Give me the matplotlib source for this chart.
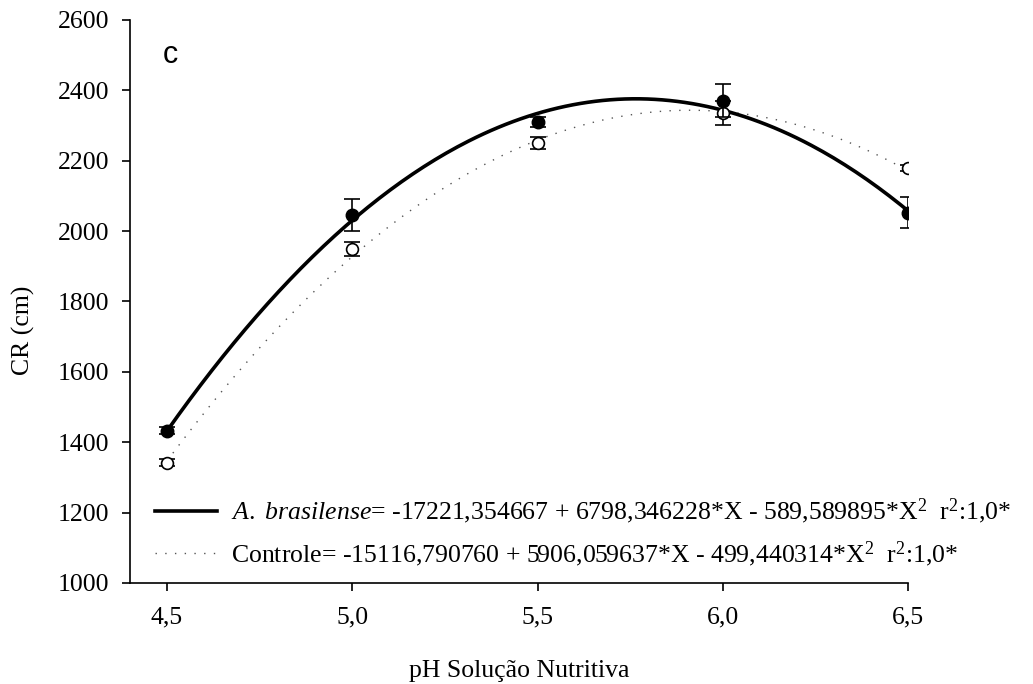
import numpy as np
import matplotlib
matplotlib.use('Agg')
import matplotlib.pyplot as plt
from matplotlib.lines import Line2D

plt.rcParams['font.family'] = 'Liberation Serif'
plt.rcParams['mathtext.fontset'] = 'custom'
plt.rcParams['mathtext.rm'] = 'Liberation Serif'
plt.rcParams['mathtext.it'] = 'Liberation Serif:italic'

ph = [4.5, 5.0, 5.5, 6.0, 6.5]
azo_mean = [1432, 2046, 2310, 2370, 2052]
azo_err = [10, 45, 15, 47, 44]
ctrl_mean = [1342, 1948, 2250, 2336, 2179]
ctrl_err = [10, 20, 18, 34, 8]

# regression coefficients shown in the legend (b0, b1, b2)
azo_coef = [-17221.354667, 6798.346228, -589.589895]
ctrl_coef = [-15116.790760, 5906.059637, -499.440314]

xticks = [4.5, 5.0, 5.5, 6.0, 6.5]
xticklabels = ['4,5', '5,0', '5,5', '6,0', '6,5']
yticks = [1000, 1200, 1400, 1600, 1800, 2000, 2200, 2400, 2600]

fs = 18.5
dots = (0, (1, 6))

def main():
	fig = plt.figure(figsize=(10.33, 6.84), dpi=100)
	ax = fig.add_axes([0.1258, 0.1477, 0.879 - 0.1258, 0.9708 - 0.1477])

	xs = np.linspace(4.5, 6.5, 200)
	y_azo = azo_coef[0] + azo_coef[1] * xs + azo_coef[2] * xs ** 2
	y_ctrl = ctrl_coef[0] + ctrl_coef[1] * xs + ctrl_coef[2] * xs ** 2

	ax.plot(xs, y_ctrl, color='#555555', lw=1.0, linestyle=dots, zorder=2)
	ax.plot(xs, y_azo, color='black', lw=2.6, zorder=3)

	ax.errorbar(ph, ctrl_mean, yerr=ctrl_err, fmt='o', color='black', mfc='white',
		mec='black', ms=8.5, mew=1.2, capsize=6, elinewidth=1.2, capthick=1.2, zorder=4)
	ax.errorbar(ph, azo_mean, yerr=azo_err, fmt='o', color='black', mfc='black',
		ms=9, capsize=6, elinewidth=1.2, capthick=1.2, zorder=5)

	ax.set_xlim(4.4, 6.5)
	ax.set_ylim(1000, 2600)
	ax.set_xticks(xticks)
	ax.set_xticklabels(xticklabels)
	ax.set_yticks(yticks)
	for s in ['top', 'right']:
		ax.spines[s].set_visible(False)
	for s in ['left', 'bottom']:
		ax.spines[s].set_linewidth(1.2)
	ax.tick_params(direction='out', length=6, width=1.2, labelsize=fs)
	ax.tick_params(axis='y', pad=9)
	ax.tick_params(axis='x', pad=11)

	fig.text(23 / 1033, 1 - 330 / 684, 'CR (cm)', rotation=90, ha='center', va='center', fontsize=fs)
	fig.text(519 / 1033, 1 - 671 / 684, 'pH Solução Nutritiva', ha='center', va='center', fontsize=fs)
	fig.text(170 / 1033, 1 - 55 / 684, 'c', ha='center', va='center', fontsize=22, family='Liberation Sans')

	handles = [Line2D([], [], color='black', lw=2.6),
		Line2D([], [], color='#555555', lw=1.0, linestyle=dots)]
	labels = [r'$\mathit{A.}$ $\mathit{brasilense}$= -17221,354667 + 6798,346228*X - 589,589895*X$^2$  r$^2$:1,0*',
		r'Controle= -15116,790760 + 5906,059637*X - 499,440314*X$^2$  r$^2$:1,0*']
	ax.legend(handles, labels, loc='lower left', bbox_to_anchor=(0.032, 0.025), frameon=False,
		fontsize=fs, handlelength=2.4, handletextpad=0.55, labelspacing=0.5,
		borderpad=0, borderaxespad=0)

	fig.savefig('out.png', dpi=100)

if __name__ == '__main__':
	main()
